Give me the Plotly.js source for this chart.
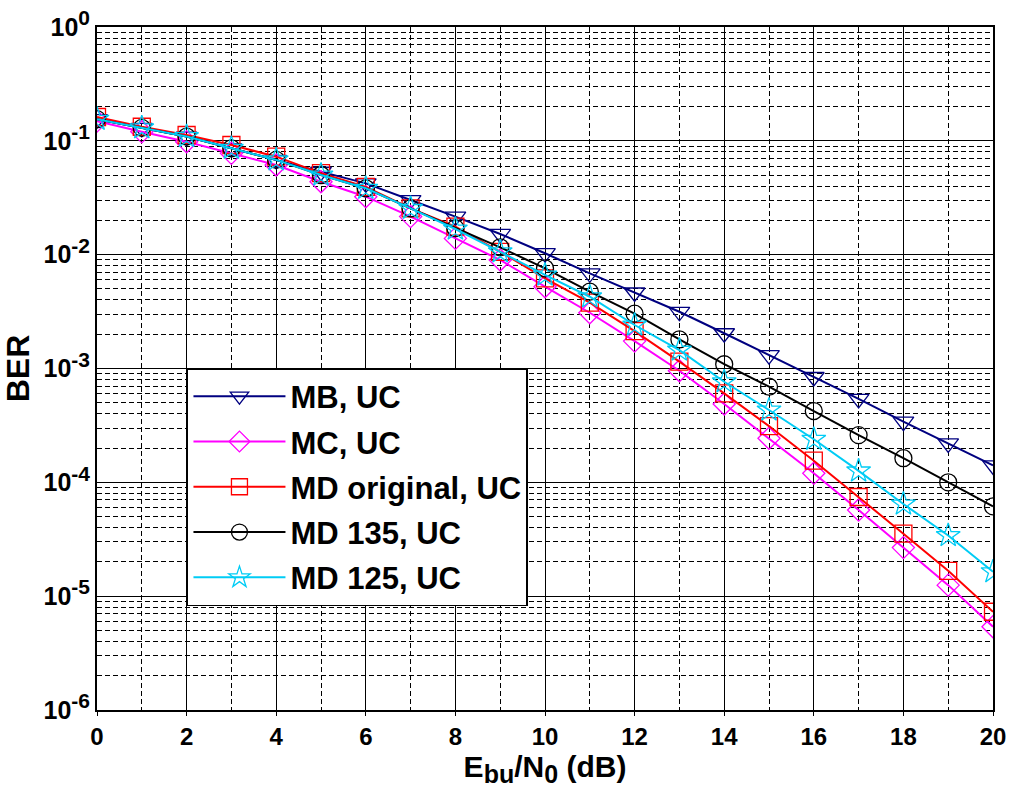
<!DOCTYPE html>
<html><head><meta charset="utf-8">
<script src="https://cdn.plot.ly/plotly-3.0.1.min.js"></script>
<style>body{margin:0;padding:0;background:#fff}#chart{width:1011px;height:793px}</style>
</head><body><div id="chart"></div>
<script>
const ebn0 = [0,1,2,3,4,5,6,7,8,9,10,11,12,13,14,15,16,17,18,19,20];
const berMB = [0.155,0.130,0.109,0.086,0.068,0.0535,0.0423,0.0302,0.0216,0.0152,0.0103,0.00686,0.00465,0.00315,0.00204,0.00131,0.000842,0.00054,0.000341,0.00022,0.000141];
const berMC = [0.149,0.120,0.0983,0.0777,0.0613,0.0437,0.0323,0.0216,0.0139,0.00898,0.00523,0.00309,0.00174,0.000956,0.000488,0.000244,0.00012,5.71e-5,2.67e-5,1.25e-5,5.39e-6];
const berMDorig = [0.162,0.133,0.1125,0.0919,0.0726,0.052,0.0394,0.0255,0.0176,0.0106,0.0062,0.00379,0.00213,0.00115,0.000605,0.000312,0.000155,7.43e-5,3.54e-5,1.67e-5,7.3e-6];
const berMD135 = [0.155,0.130,0.109,0.086,0.068,0.0501,0.0383,0.0255,0.0171,0.0116,0.00759,0.00473,0.00303,0.0018,0.00109,0.000692,0.000423,0.00026,0.000163,0.0001,6.15e-5];
const berMD125 = [0.155,0.130,0.109,0.086,0.068,0.0501,0.0383,0.0255,0.0168,0.0106,0.00663,0.00427,0.00241,0.00145,0.000765,0.000432,0.000239,0.000126,6.45e-5,3.41e-5,1.64e-5];
const seriesNames = ['MB, UC','MC, UC','MD original, UC','MD 135, UC','MD 125, UC'];
const yTickVals = [1,0.1,0.01,0.001,0.0001,0.00001,0.000001];
const yExponents = ['0','-1','-2','-3','-4','-5','-6'];
const yTickText = yExponents.map(e => '10<sup><span style="font-size:21px">' + e + '</span></sup>');

const styles = [
  {color:'#000080', symbol:'triangle-down-open', size:18},
  {color:'#FF00FF', symbol:'diamond-open', size:17},
  {color:'#FF0000', symbol:'square-open', size:17},
  {color:'#000000', symbol:'circle-open', size:17},
  {color:'#00CCF5', symbol:'star-open', size:18}
];
const ys = [berMB, berMC, berMDorig, berMD135, berMD125];
const traces = ys.map((y,i)=>({
  x: ebn0, y: y, name: seriesNames[i], type:'scatter', mode:'lines+markers',
  legendgroup: 'g'+i,
  line:{color:styles[i].color, width:2},
  marker:{symbol:styles[i].symbol, size:styles[i].size, color:styles[i].color, line:{width:1.3, color:styles[i].color}}
}));
const fnt = {family:'Liberation Sans, Arial, sans-serif', color:'#000', weight:'bold'};
const layout = {
  width:1011, height:793,
  margin:{l:97, r:18, t:27, b:83},
  paper_bgcolor:'#fff', plot_bgcolor:'#fff',
  showlegend:true,
  legend:{x:0.1004, y:0.5007, xanchor:'left', yanchor:'top', bgcolor:'#fff', bordercolor:'#000', borderwidth:1.5,
    font:Object.assign({size:31}, fnt), traceorder:'grouped', tracegroupgap:2, itemwidth:92},
  xaxis:{range:[0,20], dtick:2, tick0:0, showgrid:true, gridcolor:'#000', gridwidth:1,
    minor:{dtick:1, showgrid:true, gridcolor:'#000', griddash:'5px,3px', gridwidth:1},
    showline:true, linecolor:'#000', linewidth:2, mirror:true, ticks:'outside', ticklen:4, tickcolor:'#000', zeroline:false,
    tickfont:Object.assign({size:24}, fnt),
    title:{text:'E<sub><span style="font-size:25px">bu</span></sub>/N<sub><span style="font-size:25px">0</span></sub> (dB)', font:Object.assign({size:30}, fnt), standoff:4}},
  yaxis:{type:'log', range:[-6,0], tickvals:yTickVals, ticktext:yTickText, showgrid:true, gridcolor:'#000', gridwidth:1,
    minor:{dtick:'D1', showgrid:true, gridcolor:'#000', griddash:'5px,3px', gridwidth:1},
    showline:true, linecolor:'#000', linewidth:2, mirror:true, ticks:'', zeroline:false,
    tickfont:Object.assign({size:25}, fnt),
    title:{text:'BER', font:Object.assign({size:32}, fnt), standoff:4}}
};
Plotly.newPlot('chart', traces, layout, {displayModeBar:false, staticPlot:true});
</script></body></html>
